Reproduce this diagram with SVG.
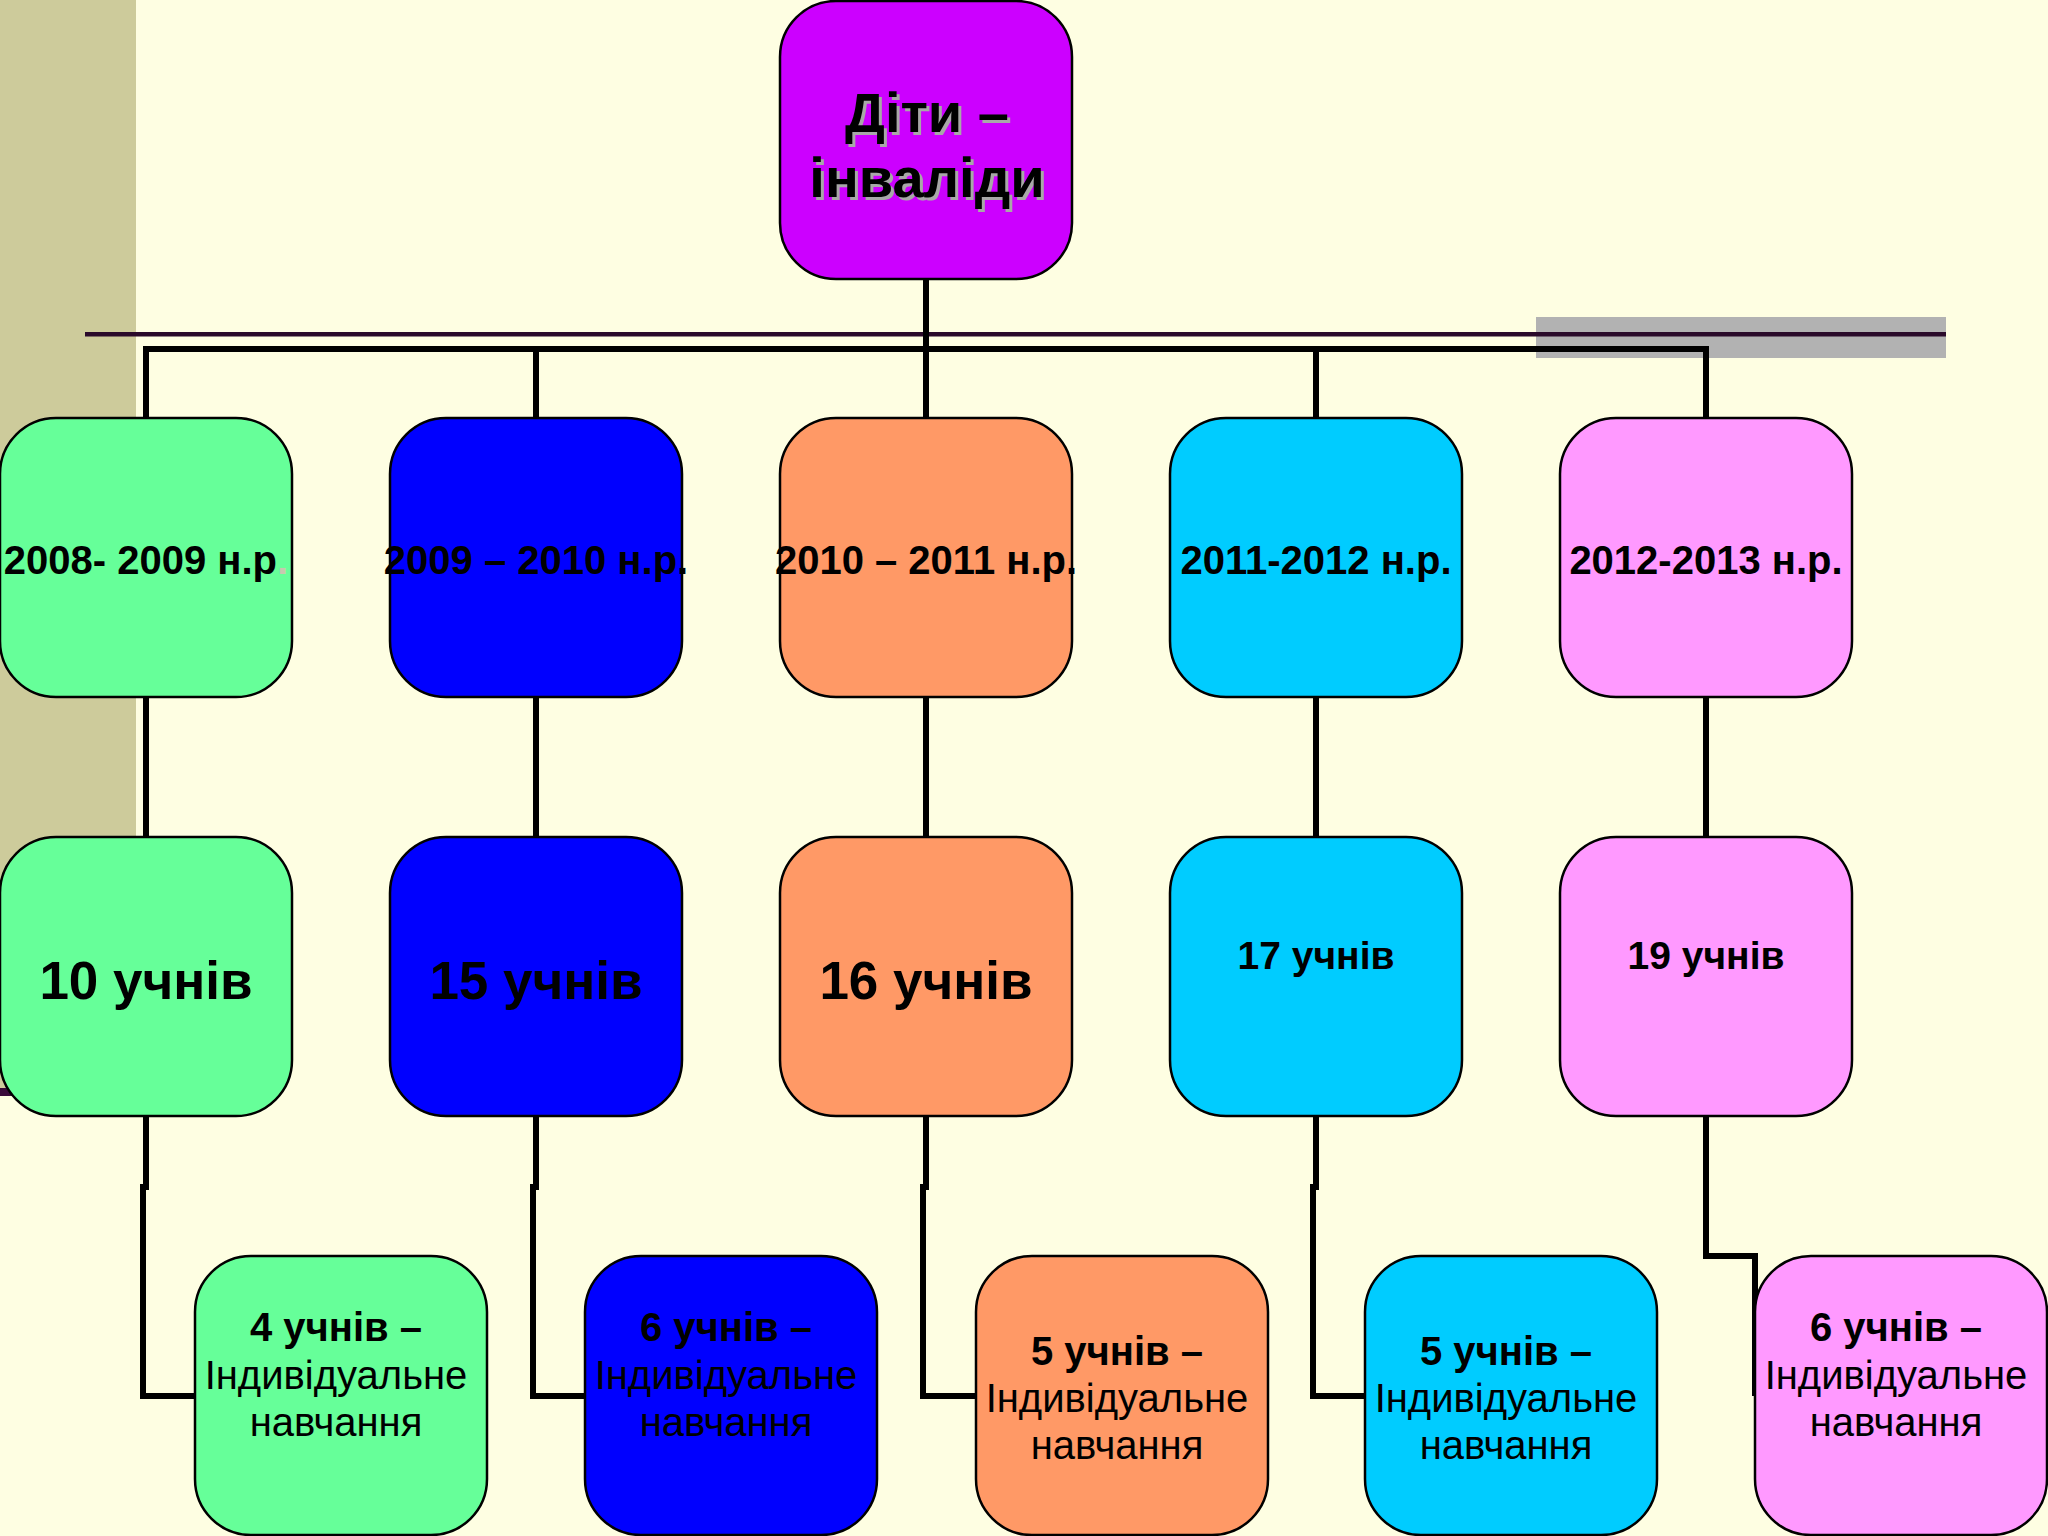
<svg xmlns="http://www.w3.org/2000/svg" width="2048" height="1536" viewBox="0 0 2048 1536">
<style>
.box{stroke:#000;stroke-width:2.5}
.t{font-family:"Liberation Sans",Arial,sans-serif;text-anchor:middle;fill:#000}
.b{font-weight:bold}
.conn{fill:none;stroke:#000;stroke-width:6;stroke-linejoin:miter}
.g{fill:#66FF99}.bl{fill:#0000FF}.o{fill:#FF9966}.c{fill:#00CCFF}.p{fill:#FF99FF}.m{fill:#CC00FF}
</style>
<rect width="2048" height="1536" fill="#FEFEE2"/>
<rect x="0" y="0" width="136" height="1092" fill="#CDCB9B"/>
<rect x="0" y="1088" width="12" height="8" fill="#3a0a3a"/>
<rect x="1536" y="317" width="410" height="41" fill="#B2B2B2"/>
<rect x="85" y="332" width="1861" height="4.5" fill="#2A0A2A"/>
<g id="connectors">
<path class="conn" d="M926,279 V418"/>
<path class="conn" d="M146,418 V349 H1706 V418"/>
<path class="conn" d="M536,349 V418"/>
<path class="conn" d="M1316,349 V418"/>
<path class="conn" d="M146,697 V837"/>
<path class="conn" d="M536,697 V837"/>
<path class="conn" d="M926,697 V837"/>
<path class="conn" d="M1316,697 V837"/>
<path class="conn" d="M1706,697 V837"/>
<path class="conn" d="M146,1116 V1187 H143 V1396 H195"/>
<path class="conn" d="M536,1116 V1187 H533 V1396 H585"/>
<path class="conn" d="M926,1116 V1187 H923 V1396 H976"/>
<path class="conn" d="M1316,1116 V1187 H1313 V1396 H1365"/>
<path class="conn" d="M1706,1116 V1256 H1755 V1396"/>
</g>
<g id="root">
<rect class="box m" x="780" y="1" width="292" height="278" rx="56"/>
<text class="t b" font-size="56" style="fill:#A8A8A8"><tspan x="930" y="135">Діти –</tspan><tspan x="930" y="200">інваліди</tspan></text>
<text class="t b" font-size="56"><tspan x="927" y="132">Діти –</tspan><tspan x="927" y="197">інваліди</tspan></text>
</g>
<g id="y2008">
<rect class="box g" x="0" y="418" width="292" height="279" rx="56"/>
<text class="t b" x="146" y="574" font-size="40">2008- 2009 н.р<tspan style="fill:#C8C8B0">.</tspan></text>
</g>
<g id="y2009">
<rect class="box bl" x="390" y="418" width="292" height="279" rx="56"/>
<text class="t b" x="536" y="574" font-size="40">2009 – 2010 н.р.</text>
</g>
<g id="y2010">
<rect class="box o" x="780" y="418" width="292" height="279" rx="56"/>
<text class="t b" x="926" y="574" font-size="40">2010 – 2011 н.р.</text>
</g>
<g id="y2011">
<rect class="box c" x="1170" y="418" width="292" height="279" rx="56"/>
<text class="t b" x="1316" y="574" font-size="40">2011-2012 н.р.</text>
</g>
<g id="y2012">
<rect class="box p" x="1560" y="418" width="292" height="279" rx="56"/>
<text class="t b" x="1706" y="574" font-size="40">2012-2013 н.р.</text>
</g>
<g id="n10">
<rect class="box g" x="0" y="837" width="292" height="279" rx="56"/>
<text class="t b" x="146" y="999" font-size="53">10 учнів</text>
</g>
<g id="n15">
<rect class="box bl" x="390" y="837" width="292" height="279" rx="56"/>
<text class="t b" x="536" y="999" font-size="53">15 учнів</text>
</g>
<g id="n16">
<rect class="box o" x="780" y="837" width="292" height="279" rx="56"/>
<text class="t b" x="926" y="999" font-size="53">16 учнів</text>
</g>
<g id="n17">
<rect class="box c" x="1170" y="837" width="292" height="279" rx="56"/>
<text class="t b" x="1316" y="969" font-size="39">17 учнів</text>
</g>
<g id="n19">
<rect class="box p" x="1560" y="837" width="292" height="279" rx="56"/>
<text class="t b" x="1706" y="969" font-size="39">19 учнів</text>
</g>
<g id="i4">
<rect class="box g" x="195" y="1256" width="292" height="279" rx="56"/>
<text class="t" font-size="40"><tspan class="b" x="336" y="1341">4 учнів –</tspan><tspan x="336" y="1389">Індивідуальне</tspan><tspan x="336" y="1436">навчання</tspan></text>
</g>
<g id="i6a">
<rect class="box bl" x="585" y="1256" width="292" height="279" rx="56"/>
<text class="t" font-size="40"><tspan class="b" x="726" y="1341">6 учнів –</tspan><tspan x="726" y="1389">Індивідуальне</tspan><tspan x="726" y="1436">навчання</tspan></text>
</g>
<g id="i5a">
<rect class="box o" x="976" y="1256" width="292" height="279" rx="56"/>
<text class="t" font-size="40"><tspan class="b" x="1117" y="1365">5 учнів –</tspan><tspan x="1117" y="1412">Індивідуальне</tspan><tspan x="1117" y="1459">навчання</tspan></text>
</g>
<g id="i5b">
<rect class="box c" x="1365" y="1256" width="292" height="279" rx="56"/>
<text class="t" font-size="40"><tspan class="b" x="1506" y="1365">5 учнів –</tspan><tspan x="1506" y="1412">Індивідуальне</tspan><tspan x="1506" y="1459">навчання</tspan></text>
</g>
<g id="i6b">
<rect class="box p" x="1755" y="1256" width="292" height="279" rx="56"/>
<text class="t" font-size="40"><tspan class="b" x="1896" y="1341">6 учнів –</tspan><tspan x="1896" y="1389">Індивідуальне</tspan><tspan x="1896" y="1436">навчання</tspan></text>
</g>
</svg>
